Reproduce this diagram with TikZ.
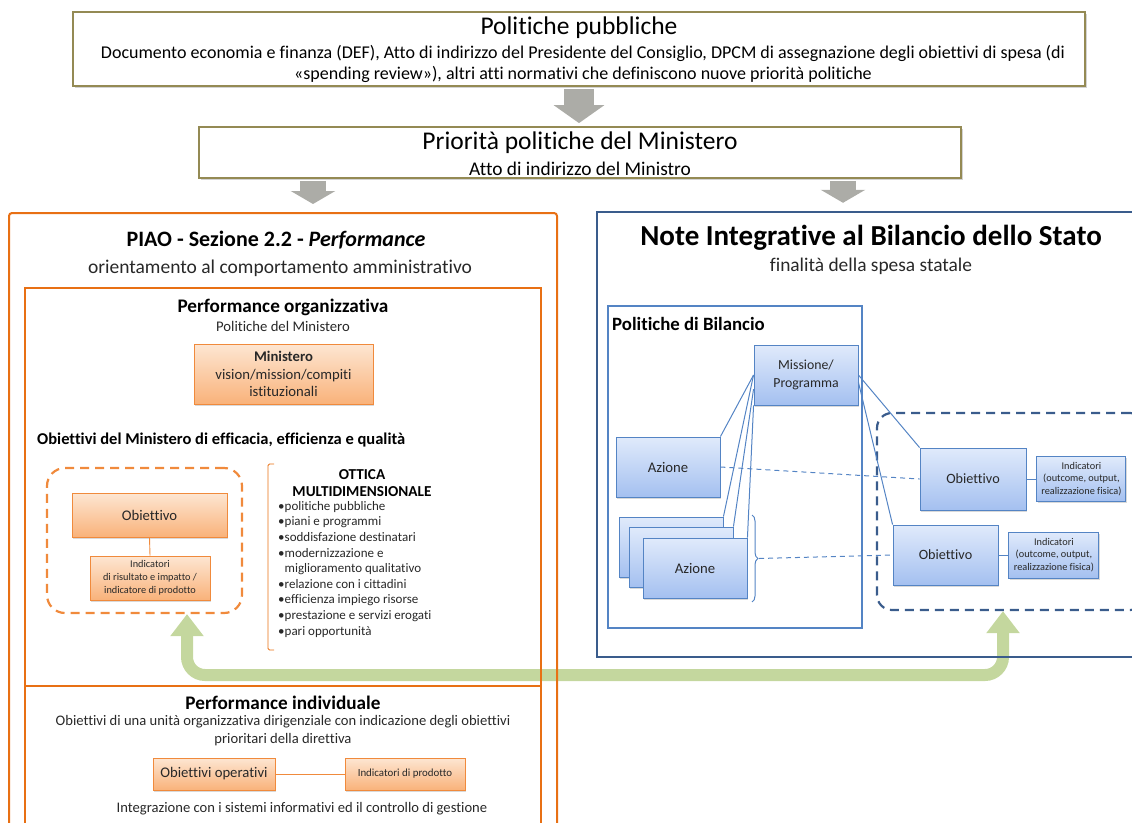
\documentclass[tikz,border=0pt]{standalone}
\usepackage{fontspec}
\setmainfont{Carlito}[Ligatures=NoCommon]
\usetikzlibrary{positioning,arrows.meta,shadows,backgrounds,decorations.pathreplacing}

\definecolor{olivebd}{RGB}{148,138,84}
\definecolor{arrgray}{RGB}{172,172,167}
\definecolor{orbd}{RGB}{232,112,20}
\definecolor{orline}{RGB}{240,138,60}
\definecolor{orlight}{RGB}{253,230,210}
\definecolor{ordark}{RGB}{249,178,122}
\definecolor{bluebd}{RGB}{58,92,140}
\definecolor{bluemid}{RGB}{84,132,196}
\definecolor{bluelight}{RGB}{224,234,251}
\definecolor{bluedark}{RGB}{164,192,240}
\definecolor{greenarr}{RGB}{196,215,158}
\definecolor{txtgray}{RGB}{40,40,40}

\tikzset{
  txt/.style={inner sep=0pt, text=txtgray},
  big title/.style={txt, text=black, font=\fontsize{25.5}{30}\selectfont},
  sub title/.style={txt, font=\fontsize{19.4}{23}\selectfont},
  top text/.style={txt, text=black, font=\fontsize{18}{21}\selectfont},
  head bold/.style={txt, text=black, font=\bfseries\fontsize{19.2}{23}\selectfont},
  body text/.style={txt, font=\fontsize{14.7}{17.5}\selectfont},
  small text/.style={txt, font=\fontsize{10.3}{12.8}\selectfont},
  list text/.style={txt, font=\fontsize{13}{15.6}\selectfont, align=left},
  top box/.style={draw=olivebd, line width=1.8pt, fill=white,
    drop shadow={shadow xshift=1.5pt, shadow yshift=-2pt, opacity=0.35}},
  panel/.style={draw, inner sep=0pt},
  orange box/.style={draw=orline, line width=0.8pt, top color=orlight, bottom color=ordark,
    drop shadow={shadow xshift=1.2pt, shadow yshift=-1.5pt, opacity=0.3},
    inner sep=1pt, align=center, text=txtgray},
  blue box/.style={draw=bluemid, line width=0.9pt, top color=bluelight, bottom color=bluedark,
    drop shadow={shadow xshift=1.2pt, shadow yshift=-1.5pt, opacity=0.3},
    inner sep=1pt, align=center, text=txtgray},
  gray arrow/.style={draw=arrgray, line width=30pt},
  link/.style={draw=bluemid, line width=1pt},
  dash link/.style={draw=bluemid, line width=1pt, dash pattern=on 5pt off 4pt},
}

\begin{document}
\begin{tikzpicture}[x=1pt, y=-1pt]
\useasboundingbox (0,0) rectangle (1132,822);
\clip (0,0) rectangle (1132,822);

% livello politico
\node[top box, minimum width=1012pt, minimum height=74pt] (pubbl) at (579,49) {};
\node[big title] (pubblT) at (579,28) {Politiche pubbliche};
\node[top text, align=center] (pubblS) at (583,63.5) {Documento economia e finanza (DEF), Atto di indirizzo del Presidente del Consiglio, DPCM di assegnazione degli obiettivi di spesa (di\\«spending review»), altri atti normativi che definiscono nuove priorità politiche};

\node[top box, minimum width=762pt, minimum height=51pt] (prior) at (580,152.5) {};
\node[big title] (priorT) at (580,143) {Priorità politiche del Ministero};
\node[sub title, text=black] (priorS) at (580,169) {Atto di indirizzo del Ministro};

\draw[gray arrow, -{Triangle[width=50pt,length=18pt]}, shorten <=2pt, shorten >=3pt]
  (pubbl.south) -- (pubbl.south |- prior.north);

% PIAO
\node[panel, draw=orbd, line width=2pt, rounded corners=3pt, minimum width=548pt, minimum height=617pt] (piao) at (283,521.5) {};
\node[head bold, font=\bfseries\fontsize{22}{26}\selectfont] (piaoT) at (276,240) {PIAO - Sezione 2.2 - \textit{Performance}};
\node[sub title, font=\fontsize{19.5}{23}\selectfont] (piaoS) at (280,268) {orientamento al comportamento amministrativo};

\node[panel, draw=orbd, line width=1.5pt, minimum width=516pt, minimum height=398pt] (perfOrg) at (283,487) {};
\node[panel, draw=orbd, line width=1.5pt, minimum width=516pt, minimum height=144pt] (perfInd) at (283,758) {};

\node[head bold] (orgT) at (283,307) {Performance organizzativa};
\node[body text] (orgS) at (283,326) {Politiche del Ministero};
\node[orange box, body text, minimum width=179pt, minimum height=60pt] (minis) at (283.5,374) {\textbf{Ministero}\\vision/mission/compiti\\istituzionali};

\node[txt, text=black, font=\bfseries\fontsize{16.5}{20}\selectfont, anchor=west] (objMin) at (37,440) {Obiettivi del Ministero di efficacia, efficienza e qualità};

\node[panel, draw=orline, line width=2.2pt, rounded corners=18pt, dash pattern=on 9pt off 6pt, minimum width=195pt, minimum height=145pt] (dashL) at (144.5,540.5) {};
\node[orange box, body text, minimum width=155pt, minimum height=44pt] (objL) at (149.5,515) {Obiettivo};
\node[orange box, small text, minimum width=120pt, minimum height=44pt] (indL) at (150,578) {Indicatori\\di risultato e impatto /\\indicatore di prodotto};
\draw[orline, line width=0.9pt] (objL.south) -- (indL.north);

\draw[orbd, line width=0.8pt, rounded corners=1.5pt] (274,464) -- (268,464) -- (268,650) -- (274,650);
\node[txt, text=black, font=\bfseries\fontsize{15.2}{17}\selectfont, align=center] (ottica) at (362,483.5) {OTTICA\\MULTIDIMENSIONALE};
\node[list text, anchor=north west] (ottList) at (278,501) {•politiche pubbliche\\•piani e programmi\\•soddisfazione destinatari\\•modernizzazione e\\\phantom{•}miglioramento qualitativo\\•relazione con i cittadini\\•efficienza impiego risorse\\•prestazione e servizi erogati\\•pari opportunità};

\node[head bold] (indT) at (283,703) {Performance individuale};
\node[body text, font=\fontsize{14.6}{18}\selectfont, align=center] (indS) at (283,731) {Obiettivi di una unità organizzativa dirigenziale con indicazione degli obiettivi\\prioritari della direttiva};
\node[orange box, body text, minimum width=122pt, minimum height=32pt] (objOp) at (214,774) {Obiettivi operativi};
\node[orange box, small text, font=\fontsize{10.9}{13}\selectfont, minimum width=120pt, minimum height=32pt] (indProd) at (405,774) {Indicatori di prodotto};
\draw[orline, line width=0.9pt] (objOp.east) -- (indProd.west);
\node[body text, font=\fontsize{14.6}{16}\selectfont] (integr) at (302,809) {Integrazione con i sistemi informativi ed il controllo di gestione};

% Note integrative
\node[panel, draw=bluebd, line width=2.4pt, minimum width=543pt, minimum height=445pt] (nib) at (868.5,434.5) {};
\node[txt, text=black, font=\bfseries\fontsize{29}{34}\selectfont] (nibT) at (871,238) {Note Integrative al Bilancio dello Stato};
\node[sub title] (nibS) at (871,266) {finalità della spesa statale};

\node[panel, draw=bluemid, line width=2pt, minimum width=254pt, minimum height=322pt] (polBil) at (735,467) {};
\node[txt, text=black, font=\bfseries\fontsize{18.8}{22}\selectfont, anchor=west] (polBilT) at (612,324) {Politiche di Bilancio};

\node[panel, draw=bluebd, line width=2.2pt, rounded corners=15pt, dash pattern=on 9pt off 6pt, minimum width=268pt, minimum height=197pt] (dashR) at (1011,511.5) {};

\node[blue box, body text, font=\fontsize{13.8}{18}\selectfont, minimum width=104pt, minimum height=60pt] (mis) at (806,375) {Missione/\\Programma};
\node[blue box, body text, minimum width=104pt, minimum height=60pt] (az1) at (668,467) {Azione};
\node[blue box, minimum width=104pt, minimum height=60pt] (azB) at (671,547) {};
\node[blue box, minimum width=104pt, minimum height=60pt] (azM) at (681,557) {};
\node[blue box, body text, minimum width=104pt, minimum height=60pt] (azF) at (695,568) {Azione};

\node[blue box, body text, font=\fontsize{14.2}{17}\selectfont, minimum width=106pt, minimum height=62pt] (obj1) at (973,479) {Obiettivo};
\node[blue box, small text, minimum width=89pt, minimum height=45pt, right=10pt of obj1] (ind1) {Indicatori\\(outcome, output,\\realizzazione fisica)};
\node[blue box, body text, font=\fontsize{14.2}{17}\selectfont, minimum width=105pt, minimum height=60pt] (obj2) at (945.5,555) {Obiettivo};
\node[blue box, small text, minimum width=90pt, minimum height=46pt, right=10pt of obj2] (ind2) {Indicatori\\(outcome, output,\\realizzazione fisica)};

\path[link]
  (mis.west) edge (az1.north east)
  (mis.west) edge (azB.north east)
  (mis.195) edge (azM.north east)
  (mis.south west) edge (azF.north east)
  (mis.east) edge (obj1.north west)
  (mis.352) edge (obj2.north west)
  (obj1) edge (ind1)
  (obj2) edge (ind2);

\draw[bluemid, line width=1pt, decorate, decoration={brace, amplitude=6pt}] (752,515) -- (752,602);
\coordinate (braceTip) at (759,558.5);
\draw[dash link] (az1.east) -- (obj1.west);
\draw[dash link] (braceTip) -- (obj2.west);

% freccia di integrazione
\coordinate (gl) at (187,0);
\coordinate (gr) at (1003,0);
\coordinate (gy) at (0,675);
\begin{scope}[on background layer]
\draw[greenarr, line width=12pt, rounded corners=18pt,
  {Triangle[width=32pt,length=22pt]}-{Triangle[width=32pt,length=22pt]}]
  (dashL.south -| gl) -- (gl |- gy) -- (gr |- gy) -- (dashR.south -| gr);
\end{scope}

\coordinate (arrL) at (313,0);
\coordinate (arrR) at (843,0);
\draw[gray arrow, line width=26pt, -{Triangle[width=44pt,length=13pt]}, shorten <=2pt, shorten >=8pt]
  (prior.south -| arrL) -- (piao.north -| arrL);
\draw[gray arrow, line width=26pt, -{Triangle[width=44pt,length=13pt]}, shorten <=2pt, shorten >=8pt]
  (prior.south -| arrR) -- (nib.north -| arrR);
\end{tikzpicture}
\end{document}
